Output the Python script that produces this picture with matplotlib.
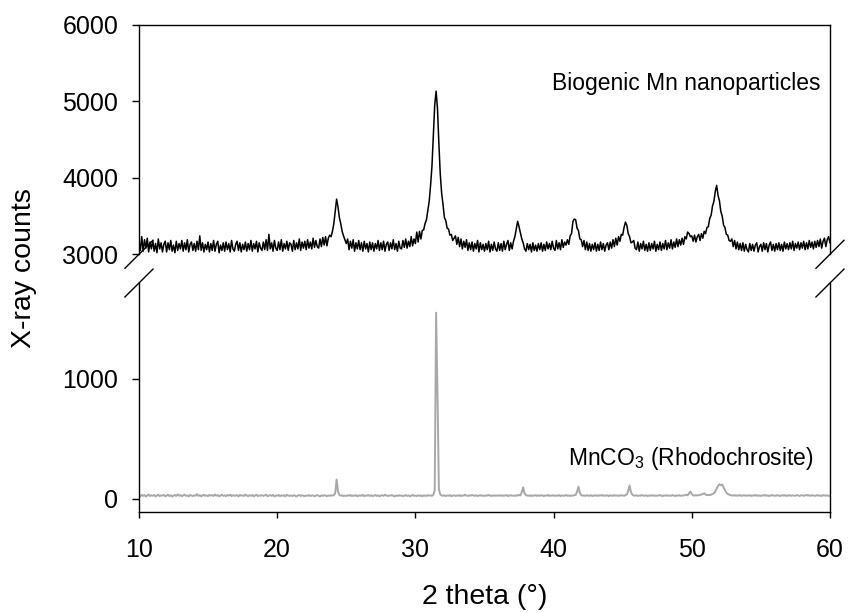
import numpy as np
import matplotlib
matplotlib.use('Agg')
import matplotlib.pyplot as plt

plt.rcParams['font.family'] = ['Liberation Sans', 'DejaVu Sans']
plt.rcParams['mathtext.fontset'] = 'custom'
plt.rcParams['mathtext.rm'] = 'Liberation Sans'

# 2 theta scan, 0.1 degree steps from 10 to 60
two_theta = np.round(np.arange(10.0, 60.05, 0.1), 1)

# biogenic Mn nanoparticles (one row per degree)
bio_counts = [
    3170, 3050, 3230, 3040, 3190, 3080, 3210, 3030, 3160, 3070,  # 10
    3180, 3040, 3140, 3020, 3200, 3070, 3150, 3030, 3130, 3170,  # 11
    3030, 3150, 3060, 3180, 3040, 3120, 3020, 3170, 3050, 3140,  # 12
    3070, 3180, 3040, 3150, 3060, 3190, 3030, 3130, 3160, 3050,  # 13
    3140, 3040, 3170, 3060, 3240, 3050, 3150, 3030, 3130, 3060,  # 14
    3160, 3030, 3140, 3050, 3180, 3040, 3130, 3170, 3020, 3120,  # 15
    3050, 3150, 3040, 3160, 3060, 3140, 3030, 3180, 3070, 3040,  # 16
    3130, 3170, 3050, 3150, 3030, 3130, 3060, 3160, 3040, 3140,  # 17
    3060, 3180, 3040, 3140, 3070, 3170, 3030, 3150, 3080, 3050,  # 18
    3160, 3060, 3190, 3050, 3260, 3070, 3150, 3040, 3180, 3080,  # 19
    3050, 3160, 3060, 3190, 3040, 3140, 3070, 3170, 3050, 3150,  # 20
    3130, 3040, 3180, 3060, 3150, 3070, 3200, 3050, 3160, 3080,  # 21
    3170, 3060, 3190, 3080, 3160, 3070, 3210, 3090, 3180, 3100,  # 22
    3080, 3200, 3100, 3220, 3120, 3230, 3110, 3210, 3250, 3230,  # 23
    3300, 3400, 3560, 3720, 3620, 3480, 3400, 3300, 3240, 3190,  # 24
    3140, 3200, 3060, 3170, 3080, 3190, 3040, 3150, 3070, 3180,  # 25
    3060, 3150, 3040, 3170, 3070, 3140, 3030, 3160, 3060, 3150,  # 26
    3040, 3140, 3070, 3180, 3050, 3150, 3060, 3170, 3040, 3130,  # 27
    3160, 3050, 3150, 3070, 3190, 3060, 3140, 3040, 3170, 3080,  # 28
    3070, 3180, 3090, 3200, 3080, 3170, 3100, 3230, 3110, 3200,  # 29
    3140, 3290, 3160, 3300, 3200, 3310, 3320, 3400, 3450, 3570,  # 30
    3690, 3900, 4150, 4550, 4950, 5130, 4900, 4450, 4050, 3800,  # 31
    3650, 3480, 3440, 3340, 3330, 3250, 3260, 3180, 3210, 3240,  # 32
    3130, 3220, 3100, 3200, 3070, 3170, 3090, 3190, 3050, 3150,  # 33
    3060, 3160, 3040, 3140, 3070, 3180, 3030, 3150, 3060, 3130,  # 34
    3040, 3140, 3060, 3170, 3030, 3130, 3050, 3160, 3070, 3040,  # 35
    3150, 3050, 3140, 3040, 3170, 3060, 3130, 3180, 3050, 3150,  # 36
    3070, 3170, 3230, 3330, 3430, 3360, 3280, 3200, 3150, 3070,  # 37
    3040, 3140, 3060, 3130, 3030, 3150, 3050, 3120, 3040, 3140,  # 38
    3060, 3150, 3040, 3130, 3050, 3160, 3070, 3140, 3060, 3170,  # 39
    3080, 3050, 3180, 3070, 3150, 3060, 3190, 3090, 3160, 3120,  # 40
    3190, 3130, 3240, 3270, 3430, 3460, 3450, 3340, 3310, 3200,  # 41
    3190, 3100, 3180, 3060, 3160, 3050, 3140, 3040, 3130, 3060,  # 42
    3150, 3040, 3130, 3050, 3160, 3060, 3140, 3040, 3120, 3150,  # 43
    3060, 3160, 3080, 3190, 3100, 3210, 3120, 3230, 3170, 3260,  # 44
    3250, 3350, 3420, 3380, 3270, 3230, 3150, 3160, 3180, 3080,  # 45
    3060, 3160, 3040, 3140, 3070, 3170, 3050, 3130, 3040, 3150,  # 46
    3050, 3140, 3070, 3170, 3040, 3130, 3060, 3160, 3050, 3140,  # 47
    3070, 3180, 3060, 3150, 3080, 3190, 3070, 3160, 3090, 3200,  # 48
    3100, 3190, 3120, 3210, 3130, 3230, 3200, 3290, 3270, 3230,  # 49
    3240, 3170, 3250, 3160, 3230, 3260, 3180, 3270, 3210, 3300,  # 50
    3270, 3350, 3360, 3470, 3510, 3630, 3690, 3820, 3900, 3770,  # 51
    3700, 3560, 3500, 3380, 3350, 3260, 3250, 3180, 3170, 3200,  # 52
    3100, 3180, 3070, 3160, 3060, 3140, 3050, 3150, 3040, 3130,  # 53
    3060, 3030, 3140, 3050, 3130, 3040, 3120, 3150, 3030, 3100,  # 54
    3130, 3040, 3150, 3060, 3140, 3030, 3120, 3160, 3050, 3130,  # 55
    3040, 3140, 3060, 3150, 3050, 3130, 3040, 3160, 3070, 3140,  # 56
    3060, 3150, 3070, 3170, 3050, 3140, 3080, 3160, 3060, 3150,  # 57
    3080, 3170, 3060, 3150, 3070, 3180, 3090, 3160, 3070, 3170,  # 58
    3090, 3180, 3100, 3200, 3080, 3170, 3210, 3100, 3190, 3230,  # 59
    3150,                                                        # 60
]

# MnCO3 (rhodochrosite) reference pattern
mnco3_counts = [
    28, 20, 33, 24, 30, 18, 26, 35, 22, 29,  # 10
    24, 31, 19, 27, 34, 21, 28, 25, 32, 20,  # 11
    27, 33, 22, 29, 18, 26, 31, 23, 36, 25,  # 12
    30, 21, 28, 34, 24, 27, 19, 32, 26, 22,  # 13
    29, 25, 38, 23, 30, 20, 27, 33, 24, 28,  # 14
    21, 32, 26, 29, 23, 35, 25, 30, 20, 27,  # 15
    33, 24, 28, 21, 31, 26, 34, 22, 29, 25,  # 16
    27, 30, 19, 32, 25, 28, 23, 35, 26, 21,  # 17
    29, 24, 31, 20, 27, 33, 22, 28, 25, 30,  # 18
    23, 28, 34, 21, 26, 30, 24, 32, 19, 27,  # 19
    25, 31, 22, 28, 24, 29, 20, 33, 26, 23,  # 20
    28, 22, 30, 25, 19, 27, 31, 23, 29, 24,  # 21
    21, 27, 24, 30, 22, 26, 28, 20, 25, 31,  # 22
    24, 19, 28, 23, 30, 25, 21, 27, 24, 29,  # 23
    26, 30, 45, 160, 60, 32, 25, 28, 22, 26,  # 24
    23, 29, 25, 31, 22, 27, 24, 30, 20, 26,  # 25
    28, 24, 32, 21, 27, 25, 30, 23, 29, 22,  # 26
    25, 31, 23, 28, 20, 26, 29, 24, 33, 27,  # 27
    22, 28, 25, 30, 24, 19, 27, 23, 29, 25,  # 28
    27, 21, 26, 30, 23, 28, 20, 25, 31, 24,  # 29
    26, 22, 29, 24, 27, 20, 28, 25, 23, 30,  # 30
    25, 28, 24, 32, 70, 1550, 880, 80, 35, 27,  # 31
    24, 29, 22, 27, 25, 30, 21, 26, 28, 23,  # 32
    27, 24, 30, 22, 28, 25, 33, 26, 23, 29,  # 33
    25, 31, 27, 24, 29, 22, 26, 30, 24, 27,  # 34
    23, 28, 25, 31, 26, 22, 29, 24, 27, 25,  # 35
    28, 24, 30, 23, 27, 25, 31, 22, 26, 29,  # 36
    25, 27, 23, 29, 26, 32, 28, 55, 95, 45,  # 37
    30, 26, 24, 29, 22, 27, 25, 30, 23, 28,  # 38
    24, 29, 26, 22, 28, 25, 31, 23, 27, 25,  # 39
    29, 23, 27, 25, 30, 22, 28, 24, 26, 31,  # 40
    24, 28, 22, 27, 25, 30, 32, 60, 100, 48,  # 41
    30, 25, 28, 23, 29, 26, 24, 30, 22, 27,  # 42
    25, 29, 23, 28, 26, 31, 24, 27, 25, 29,  # 43
    22, 28, 26, 24, 30, 25, 27, 23, 29, 26,  # 44
    28, 24, 30, 35, 65, 110, 55, 33, 27, 25,  # 45
    29, 23, 27, 25, 30, 26, 24, 28, 22, 27,  # 46
    25, 30, 24, 28, 23, 27, 26, 31, 25, 22,  # 47
    28, 25, 29, 23, 27, 24, 30, 26, 22, 28,  # 48
    25, 29, 24, 27, 26, 30, 33, 28, 45, 60,  # 49
    38, 28, 26, 30, 27, 29, 32, 35, 40, 45,  # 50
    35, 30, 33, 29, 34, 38, 45, 60, 85, 105,  # 51
    120, 112, 118, 95, 70, 50, 40, 34, 30, 28,  # 52
    26, 30, 24, 28, 25, 31, 23, 27, 29, 24,  # 53
    28, 25, 30, 23, 27, 26, 31, 24, 28, 25,  # 54
    23, 29, 26, 31, 24, 28, 22, 27, 30, 25,  # 55
    27, 24, 30, 26, 22, 29, 25, 31, 23, 28,  # 56
    25, 30, 23, 28, 26, 24, 31, 27, 22, 29,  # 57
    28, 24, 27, 32, 25, 29, 23, 30, 26, 24,  # 58
    26, 31, 24, 28, 22, 30, 27, 25, 29, 23,  # 59
    27,                                      # 60
]

x_ticks = [10, 20, 30, 40, 50, 60]
top_yticks = [3000, 4000, 5000, 6000]
bottom_yticks = [0, 1000]

fig = plt.figure(figsize=(8.51, 6.13), dpi=100)
ax_top = fig.add_axes([0.1633, 0.5852, 0.812, 0.3748])
ax_bot = fig.add_axes([0.1633, 0.1653, 0.812, 0.3730])

ax_top.plot(two_theta, bio_counts, color='black', linewidth=1.1)
ax_bot.plot(two_theta, mnco3_counts, color='#a8a8a8', linewidth=1.4)

for ax in (ax_top, ax_bot):
    ax.set_xlim(10, 60)
    for s in ax.spines.values():
        s.set_linewidth(1.0)
    ax.tick_params(axis='y', direction='out', length=5, width=1, pad=10, labelsize=18)
    ax.tick_params(axis='x', direction='out', length=4, width=1, pad=15, labelsize=18)

ax_top.set_ylim(3000, 6000)
ax_top.set_yticks(top_yticks)
ax_top.spines['bottom'].set_visible(False)
ax_top.tick_params(axis='x', bottom=False, labelbottom=False)

ax_bot.set_ylim(-108, 1797)
ax_bot.set_yticks(bottom_yticks)
ax_bot.set_xticks(x_ticks)
ax_bot.spines['top'].set_visible(False)

# break marks
kw = dict(color='black', linewidth=1.0, clip_on=False)
dx, dy = 0.0203, 0.061
for xc in (0, 1):
    ax_top.plot([xc - dx, xc + dx], [-dy, dy], transform=ax_top.transAxes, **kw)
    ax_bot.plot([xc - dx, xc + dx], [1 - dy, 1 + dy], transform=ax_bot.transAxes, **kw)

ax_top.text(59.3, 5150, 'Biogenic Mn nanoparticles', ha='right', va='baseline', fontsize=16.5)
ax_bot.text(58.8, 280, 'MnCO$_3$ (Rhodochrosite)', ha='right', va='baseline', fontsize=16.5)

fig.text(0.028, 1 - 268 / 613, 'X-ray counts', rotation=90, ha='center', va='center', fontsize=20.5)
fig.text(484.5 / 851, 1 - 597 / 613, '2 theta (°)', ha='center', va='center', fontsize=20.5)

fig.savefig('out.png', dpi=100)
